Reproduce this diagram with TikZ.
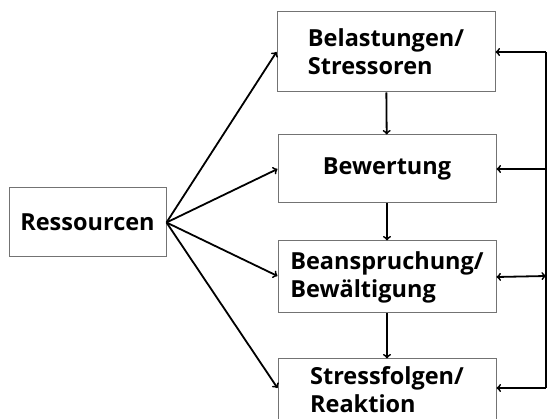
\documentclass[tikz,border=0pt]{standalone}
\usepackage{fontspec}
\setmainfont{Open Sans}
\begin{document}
\begin{tikzpicture}[x=1pt,y=-1pt,>=to,
  kasten/.style={draw=black!55,line width=1pt,rectangle,align=left,
    font=\bfseries\fontsize{23.5}{28}\selectfont,minimum width=218pt,inner sep=0pt},
  pfeil/.style={draw,line width=1.8pt,->}]
\useasboundingbox (0,0) rectangle (547,419);
\node[kasten,minimum width=157pt,minimum height=69pt] (ress) at (87.5,222.5) {Ressourcen};
\node[kasten,minimum height=80pt] (belast) at (386,52) {Belastungen/\\Stressoren};
\node[kasten,minimum height=68pt] (bewert) at (387,169) {Bewertung};
\node[kasten,minimum height=72pt] (beansp) at (387,277) {Beanspruchung/\\Bewältigung};
\node[kasten,minimum height=62pt] (folgen) at (387,390) {Stressfolgen/\\Reaktion};
% Rueckkopplung rechts
\coordinate (ro) at (546,52);
\coordinate (rm) at (546,276);
\coordinate (ru) at (546,388);
\path[draw,line width=1.8pt] (ro) -- (ru);
\path[pfeil] (ro) -- (belast.east);
\path[pfeil] (546,169) -- (bewert.east);
\path[pfeil,<->] (beansp.east) -- (rm);
\path[pfeil] (ru) -- ([yshift=2pt]folgen.east);
% Ressourcen
\path[pfeil] (ress.east) -- (belast.west);
\path[pfeil] (ress.east) -- (bewert.west);
\path[pfeil] (ress.east) -- ([yshift=1pt]beansp.west);
\path[pfeil] (ress.east) -- ([yshift=2pt]folgen.west);
% Kette
\path[pfeil] (belast) -- (bewert);
\path[pfeil] (bewert) -- (beansp);
\path[pfeil] (beansp) -- (folgen);
\end{tikzpicture}
\end{document}
